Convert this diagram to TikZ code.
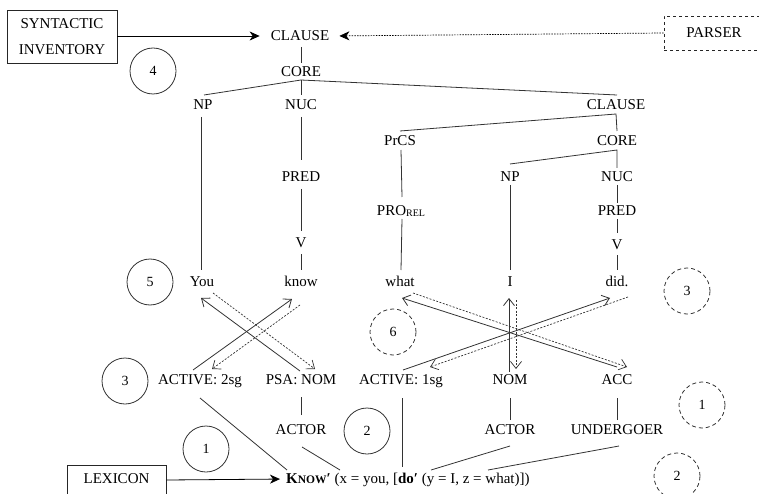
\documentclass[tikz,border=0pt]{standalone}
\usepackage{fontspec}
\setmainfont{Liberation Serif}
\usetikzlibrary{arrows.meta}
\begin{document}
\begin{tikzpicture}[x=1pt,y=-1pt,
  lbl/.style={font=\fontsize{15}{18}\selectfont, inner xsep=3pt, inner ysep=3pt,
              text height=11pt, text depth=2pt},
  edge/.style={line width=0.8pt, draw=black!80},
  solidarr/.style={edge, -{Straight Barb[length=7pt,width=11pt]}},
  dotarr/.style={line width=0.7pt, draw=black!80, dash pattern=on 2pt off 1.5pt,
                 -{Straight Barb[length=7pt,width=11pt]}},
  bigarr/.style={line width=0.8pt, -{Stealth[length=10pt,width=9pt,inset=3pt]}},
  circ/.style={circle, draw=black!80, line width=0.8pt, minimum size=46pt, inner sep=0pt,
               font=\fontsize{14}{16}\selectfont},
  dcirc/.style={circ, dash pattern=on 4pt off 3pt},
  box/.style={draw=black!85, line width=0.8pt, font=\fontsize{15}{26}\selectfont, align=center}
]
\useasboundingbox (0,0) rectangle (759,494);

% ---- framing boxes ----
\node[box, minimum width=110pt, minimum height=53pt] (syn) at (62,36.5) {SYNTACTIC\\INVENTORY};
\node[box, dashed, minimum width=100pt, minimum height=34pt] (parser) at (714,33) {PARSER};
\node[box, minimum width=99pt, inner ysep=7.5pt, text height=11pt, text depth=16pt] (lex) at (116.5,486) {LEXICON};

% ---- syntactic tree ----
\node[lbl] (clause0) at (300,36) {CLAUSE};
\node[lbl] (core) at (301,72) {CORE};
\node[lbl] (np) at (203,105) {NP};
\node[lbl] (nuc) at (301,105) {NUC};
\node[lbl] (clause2) at (616,105) {CLAUSE};
\node[lbl] (pred) at (301,177) {PRED};
\node[lbl] (v) at (301,243) {V};
\node[lbl] (prcs) at (400,141) {PrCS};
\node[lbl] (core2) at (617,141) {CORE};
\node[lbl] (np2) at (510,177) {NP};
\node[lbl] (nuc2) at (617,177) {NUC};
\node[lbl] (pro) at (401,211) {PRO\raisebox{-1.5pt}{\fontsize{10}{10}\selectfont REL}};
\node[lbl] (pred2) at (617,211) {PRED};
\node[lbl] (v2) at (617,245) {V};
\node[lbl] (you) at (202,282) {You};
\node[lbl] (know) at (301,282) {know};
\node[lbl] (what) at (400,282) {what};
\node[lbl] (i) at (510,282) {I};
\node[lbl] (did) at (617,282) {did.};

% ---- linking level ----
\node[lbl] (a2) at (200,380) {ACTIVE: 2sg};
\node[lbl] (psa) at (301,380) {PSA: NOM};
\node[lbl] (a1) at (401,380) {ACTIVE: 1sg};
\node[lbl] (nom) at (510,380) {NOM};
\node[lbl] (acc) at (617,380) {ACC};
\node[lbl] (actor1) at (301,430) {ACTOR};
\node[lbl] (actor2) at (510,430) {ACTOR};
\node[lbl] (und) at (617,430) {UNDERGOER};
\node[lbl, anchor=west, inner xsep=0pt] (fm) at (286,479)
  {\textbf{K{\fontsize{11.5}{12}\selectfont NOW}′} (x = you, [\textbf{do′} (y = I, z = what)])};

% ---- step numbers ----
\node[circ] (n4) at (153,71) {4};
\node[circ] (n5) at (150,282) {5};
\node[circ] (n3) at (125,381) {3};
\node[circ] (n1) at (206,449) {1};
\node[circ] (n2) at (367,431) {2};
\node[dcirc] (m6) at (393,332) {6};
\node[dcirc] (m3) at (687,291) {3};
\node[dcirc] (m1) at (702,405) {1};
\node[dcirc] (m2) at (677,476) {2};

% ---- inputs ----
\draw[bigarr, shorten >=8pt] (syn.east |- clause0) -- (clause0.west);
\draw[bigarr, line width=0.7pt, dash pattern=on 1.5pt off 1.2pt, shorten >=7pt] (parser.west) -- (clause0.east);
\draw[bigarr, shorten >=6pt] ([shift={(0,-6)}]lex.east) -- (fm.west);

% ---- tree branches ----
\draw[edge] ([shift={(1,11)}]clause0.center) -- ([shift={(0,-9)}]core.center);
\draw[edge] ([shift={(1,-10)}]np.center) -- ([shift={(0,8)}]core.center) -- ([shift={(1,-10)}]clause2.center);
\draw[edge] ([shift={(0,8)}]core.center) -- ([shift={(0,-10)}]nuc.center);
\draw[edge] ([shift={(-2,12)}]np.center) -- ([shift={(-1,-12)}]you.center);
\draw[edge] ([shift={(0,12)}]nuc.center) -- ([shift={(0,-17)}]pred.center);
\draw[edge] ([shift={(0,12)}]pred.center) -- ([shift={(0,-12)}]v.center);
\draw[edge] ([shift={(0,11)}]v.center) -- ([shift={(0,-12)}]know.center);
\draw[edge] ([shift={(0,-10)}]prcs.center) -- ([shift={(0,9)}]clause2.center) -- ([shift={(0,-10)}]core2.center);
\draw[edge] ([shift={(1,9)}]prcs.center) -- ([shift={(1,-14)}]pro.center);
\draw[edge] ([shift={(1,8)}]pro.center) -- ([shift={(1,-12)}]what.center);
\draw[edge] ([shift={(0,-13)}]np2.center) -- ([shift={(0,9)}]core2.center) -- ([shift={(0,-9)}]nuc2.center);
\draw[edge] ([shift={(0,8)}]np2.center) -- ([shift={(0,-12)}]i.center);
\draw[edge] ([shift={(0,8)}]nuc2.center) -- ([shift={(0,-8)}]pred2.center);
\draw[edge] ([shift={(0,8)}]pred2.center) -- ([shift={(0,-12)}]v2.center);
\draw[edge] ([shift={(0,10)}]v2.center) -- ([shift={(0,-12)}]did.center);

% ---- roles to the logical structure ----
\draw[edge] ([shift={(0,-15)}]actor1.center) -- ([shift={(0,17)}]psa.center);
\draw[edge] ([shift={(0,-10)}]actor2.center) -- ([shift={(0,18)}]nom.center);
\draw[edge] ([shift={(0,-10)}]und.center) -- ([shift={(0,18)}]acc.center);
\draw[edge] ([shift={(0,18)}]a2.center) -- ([shift={(1,-9)}]fm.west);
\draw[edge] ([shift={(1,17)}]actor1.center) -- ([shift={(54,-9)}]fm.west);
\draw[edge] ([shift={(1,18)}]a1.center) -- ([shift={(116,-12)}]fm.west);
\draw[edge] ([shift={(0,16)}]actor2.center) -- ([shift={(145,-9)}]fm.west);
\draw[edge] ([shift={(2,16)}]und.center) -- ([shift={(202,-9)}]fm.west);

% ---- linking arrows, left clause ----
\draw[solidarr] ([shift={(-7,-10)}]a2.center) -- ([shift={(-9,17)}]know.center);
\draw[solidarr] ([shift={(-1,-9)}]psa.center) -- ([shift={(-1,16)}]you.center);
\draw[dotarr] ([shift={(11,11)}]you.center) -- ([shift={(14,-11)}]psa.center);
\draw[dotarr] ([shift={(-1,23)}]know.center) -- ([shift={(12,-11)}]a2.center);

% ---- linking arrows, relative clause ----
\draw[solidarr] ([shift={(0,-13)}]acc.center) -- ([shift={(2,16)}]what.center);
\draw[solidarr] ([shift={(2,-10)}]a1.center) -- ([shift={(-7,16)}]did.center);
\draw[dotarr] ([shift={(13,11)}]what.center) -- ([shift={(10,-13)}]acc.center);
\draw[dotarr] ([shift={(11,15)}]did.center) -- ([shift={(29,-13)}]a1.center);
\draw[solidarr] ([shift={(-1,-8)}]nom.center) -- ([shift={(-1,16)}]i.center);
\draw[dotarr] ([shift={(6,18)}]i.center) -- ([shift={(6,-11)}]nom.center);
\end{tikzpicture}
\end{document}
